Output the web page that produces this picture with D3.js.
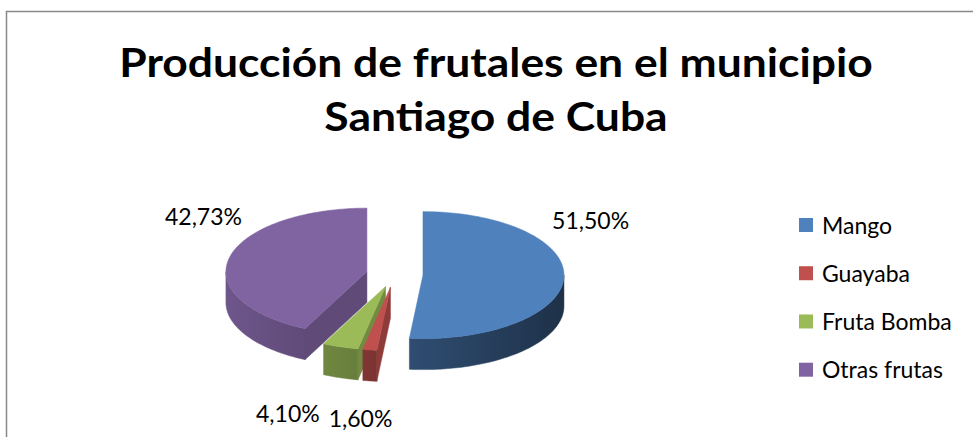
<!DOCTYPE html>
<html>
<head>
<meta charset="utf-8">
<script src="https://cdn.jsdelivr.net/npm/d3@7"></script>
<style>
    body { margin: 0; background: #fff; }
    text { font-family: Lato, "Open Sans", sans-serif; }
</style>
</head>
<body>
<div id="chart"></div>
<script>
// chart data
const categories = ["Mango", "Guayaba", "Fruta Bomba", "Otras frutas"];
const shares = [51.50, 1.60, 4.10, 42.73];
const colors = ["#4F81BD", "#C0504D", "#9BBB59", "#8064A2"];
const titleLines = ["Producción de frutales en el municipio", "Santiago de Cuba"];

const width = 973, height = 437;

const svg = d3.select("#chart").append("svg")
    .attr("width", width)
    .attr("height", height);

// chart frame (cut off at right and bottom like the screenshot)
svg.append("rect")
    .attr("x", 6.5).attr("y", 11.5)
    .attr("width", width + 20).attr("height", height + 20)
    .attr("fill", "#fff")
    .attr("stroke", "#898989")
    .attr("stroke-width", 1.5);

// title - Lato is narrower than the original Calibri, so stretch it a little
svg.append("g")
    .selectAll("text")
    .data(titleLines)
    .join("text")
    .attr("x", 496)
    .attr("y", (d, i) => 77 + i * 53.5)
    .attr("text-anchor", "middle")
    .attr("font-size", 40)
    .attr("font-weight", "bold")
    .attr("fill", "#000")
    .text(d => d)
    .attr("lengthAdjust", "spacingAndGlyphs")
    .attr("textLength", function() { return this.getComputedTextLength() * 1.11; });

// 3d pie geometry
const geo = {cx: 394.6, cy: 274.5, rx: 141, ry: 63.5, depth: 31, explode: 28.4};

const color = d3.scaleOrdinal().domain(categories).range(colors);
const pie = d3.pie().sort(null).value(d => d.value);
const slices = pie(categories.map((c, i) => ({name: c, value: shares[i]})));

const shade = (c, f) => {
    let r = d3.rgb(c);
    return d3.rgb(r.r * f, r.g * f, r.b * f).formatHex();
};

// exploded centre of every slice
slices.forEach(s => {
    s.mid = (s.startAngle + s.endAngle) / 2;
    s.ox = geo.cx + geo.explode * Math.sin(s.mid);
    s.oy = geo.cy - geo.explode * (geo.ry / geo.rx) * Math.cos(s.mid);
});

function pt(s, a, r, z) {
    return [s.ox + r * geo.rx * Math.sin(a), s.oy - r * geo.ry * Math.cos(a) + z];
}
function arcPts(s, a0, a1, z) {
    let n = Math.max(2, Math.ceil(Math.abs(a1 - a0) / 0.02));
    return d3.range(n + 1).map(i => pt(s, a0 + (a1 - a0) * i / n, 1, z));
}
const line = d3.line();
const closed = pts => line(pts) + "Z";

// wall gradients, light from the left
const defs = svg.append("defs");
categories.forEach((c, i) => {
    let g = defs.append("linearGradient")
        .attr("id", "wall" + i)
        .attr("gradientUnits", "userSpaceOnUse")
        .attr("x1", geo.cx - geo.rx - geo.explode).attr("x2", geo.cx + geo.rx + geo.explode)
        .attr("y1", 0).attr("y2", 0);
    g.append("stop").attr("offset", 0).attr("stop-color", shade(color(c), 0.86));
    g.append("stop").attr("offset", 1).attr("stop-color", shade(color(c), 0.38));
});

// paint back slices first
const order = slices.slice().sort((a, b) => Math.cos(b.mid) - Math.cos(a.mid));
const pieG = svg.append("g");

order.forEach(s => {
    let i = s.index, c = color(s.data.name);
    let g = pieG.append("g");
    let D = geo.depth;

    // cut faces that turn towards the viewer
    [s.startAngle, s.endAngle].forEach((a, k) => {
        let visible = k === 0 ? Math.sin(a) < -1e-3 : Math.sin(a) > 1e-3;
        if (!visible) return;
        g.append("path")
            .attr("d", closed([pt(s, a, 0, 0), pt(s, a, 1, 0), pt(s, a, 1, D), pt(s, a, 0, D)]))
            .attr("fill", shade(c, 0.74))
            .attr("stroke", shade(c, 0.74))
            .attr("stroke-width", 0.5);
    });

    // outer wall, front half only
    let t0 = Math.max(s.startAngle, Math.PI / 2);
    let t1 = Math.min(s.endAngle, Math.PI * 1.5);
    if (t0 < t1) {
        g.append("path")
            .attr("d", closed(arcPts(s, t0, t1, 0).concat(arcPts(s, t1, t0, D))))
            .attr("fill", `url(#wall${i})`)
            .attr("stroke", `url(#wall${i})`)
            .attr("stroke-width", 0.5);
    }

    // top face
    g.append("path")
        .attr("d", closed([pt(s, 0, 0, 0)].concat(arcPts(s, s.startAngle, s.endAngle, 0))))
        .attr("fill", c)
        .attr("stroke", c)
        .attr("stroke-width", 0.5);
});

// data labels
const fmt = d3.formatLocale({decimal: ",", thousands: ".", grouping: [3], currency: ["", ""]}).format(".2f");
const labelG = svg.append("g");

slices.forEach(s => {
    let front = -Math.cos(s.mid) > 0.5;
    if (front) {
        s.lx = s.ox + Math.sin(s.mid) * geo.rx * 1.45;
        s.ly = s.oy - Math.cos(s.mid) * geo.ry * 1.6 + geo.depth;
    } else {
        s.lx = s.ox + Math.sin(s.mid) * geo.rx * 1.19;
        s.ly = s.oy - geo.ry * 0.86;
    }
    s.front = front;
    s.label = labelG.append("text")
        .attr("text-anchor", "middle")
        .attr("dy", "0.35em")
        .attr("font-size", 23)
        .attr("fill", "#000")
        .text(fmt(s.data.value) + "%");
    s.lw = s.label.node().getComputedTextLength();
});

// push overlapping front labels apart
let fronts = slices.filter(s => s.front).sort((a, b) => b.lx - a.lx);
for (let k = 1; k < fronts.length; k++) {
    let right = fronts[k - 1], cur = fronts[k];
    let limit = right.lx - right.lw / 2 - 9;
    if (cur.lx + cur.lw / 2 > limit) cur.lx = limit - cur.lw / 2;
}
slices.forEach(s => s.label.attr("x", s.lx).attr("y", s.ly));

// legend
const legendY = d3.scaleLinear().domain([0, categories.length - 1]).range([218, 362.7]);
const legend = svg.append("g")
    .selectAll("g")
    .data(categories)
    .join("g")
    .attr("transform", (d, i) => `translate(799, ${legendY(i)})`);

legend.append("rect")
    .attr("width", 14).attr("height", 14)
    .attr("fill", d => color(d));

legend.append("text")
    .attr("x", 23).attr("y", 15.5)
    .attr("font-size", 23)
    .attr("fill", "#000")
    .text(d => d);
</script>
</body>
</html>
